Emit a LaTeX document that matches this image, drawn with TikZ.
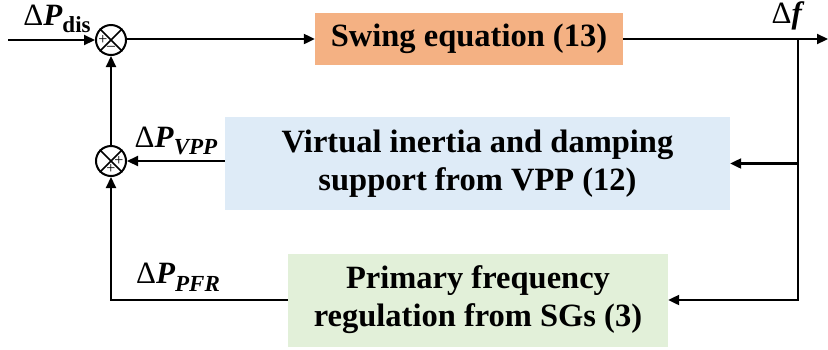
\documentclass[tikz,border=0pt]{standalone}
\usepackage{fontspec}
\setmainfont{Liberation Serif}
\usetikzlibrary{arrows.meta,calc}

\definecolor{swingfill}{HTML}{F4B183}
\definecolor{vppfill}{HTML}{DEEBF7}
\definecolor{pfrfill}{HTML}{E2F0D9}

% Delta-quantity with a lowered subscript
\newcommand{\dquant}[2]{Δ\textbf{\textit{#1}}\raisebox{-0.25em}{\fontsize{23}{23}\selectfont\bfseries #2}}

\tikzset{
  blk/.style={draw=none, inner sep=0pt, align=center,
    font=\bfseries\fontsize{32.5}{38}\selectfont},
  sumnode/.style={circle, draw, line width=2pt, minimum size=30pt, inner sep=0pt},
  wire/.style={line width=2.2pt},
  arr/.style={wire, -{Triangle[length=11pt,width=10pt]}},
  sig/.style={font=\fontsize{31}{33}\selectfont, inner sep=0pt},
  pm/.style={font=\fontsize{16}{16}\selectfont, inner sep=0pt},
}

\begin{document}
\begin{tikzpicture}[x=1pt, y=-1pt]
\useasboundingbox (0,0) rectangle (828,349);

% blocks
\node[blk, fill=swingfill, minimum width=308pt, minimum height=52pt]
  (swing) at (469,39) {Swing equation (13)};
\node[blk, fill=vppfill, minimum width=505pt, minimum height=93pt]
  (vpp) at (477.5,163.5) {Virtual inertia and damping\\support from VPP (12)};
\node[blk, fill=pfrfill, minimum width=380pt, minimum height=93pt]
  (pfr) at (478,300) {Primary frequency\\regulation from SGs (3)};

% summing junctions
\node[sumnode] (sumA) at (111,40) {};
\node[sumnode] (sumB) at (111,161) {};
\foreach \s in {sumA,sumB}{
  \draw[line width=1.6pt] (\s.north west) -- (\s.south east);
  \draw[line width=1.6pt] (\s.north east) -- (\s.south west);
}
\node[pm] (sumAplus) at ($(sumA)+(-8,0)$) {+};
\node[pm] (sumAminus) at ($(sumA)+(0,8)$) {\textendash};
\node[pm] (sumBplusR) at ($(sumB)+(8,0)$) {+};
\node[pm] (sumBplusB) at ($(sumB)+(0,8)$) {+};

% free ends
\coordinate (input) at (8,40);
\coordinate (output) at (828,39);
\coordinate (tap) at (798,39);

% forward path
\draw[arr] (input) -- (sumA.west);
\draw[arr] (sumA.east |- swing.west) -- (swing.west);
\draw[arr] (swing.east) -- (output);

% feedback paths
\draw[arr] (tap) |- (vpp.east);
\draw[arr] (tap) |- (pfr.east);
\draw[arr] (vpp.west |- sumB) -- (sumB.east);
\draw[arr] (pfr.west) -| (sumB.south);
\draw[arr] (sumB.north) -- (sumA.south);

% signal labels
\node[sig] (lblDis) at (57,19) {\dquant{P}{dis}};
\node[sig] (lblVpp) at (176,141) {\dquant{P}{\itshape VPP}};
\node[sig] (lblPfr) at (178,277) {\dquant{P}{\itshape PFR}};
\node[sig] (lblF) at (788,16) {Δ\textbf{\textit{f}}};
\end{tikzpicture}
\end{document}
